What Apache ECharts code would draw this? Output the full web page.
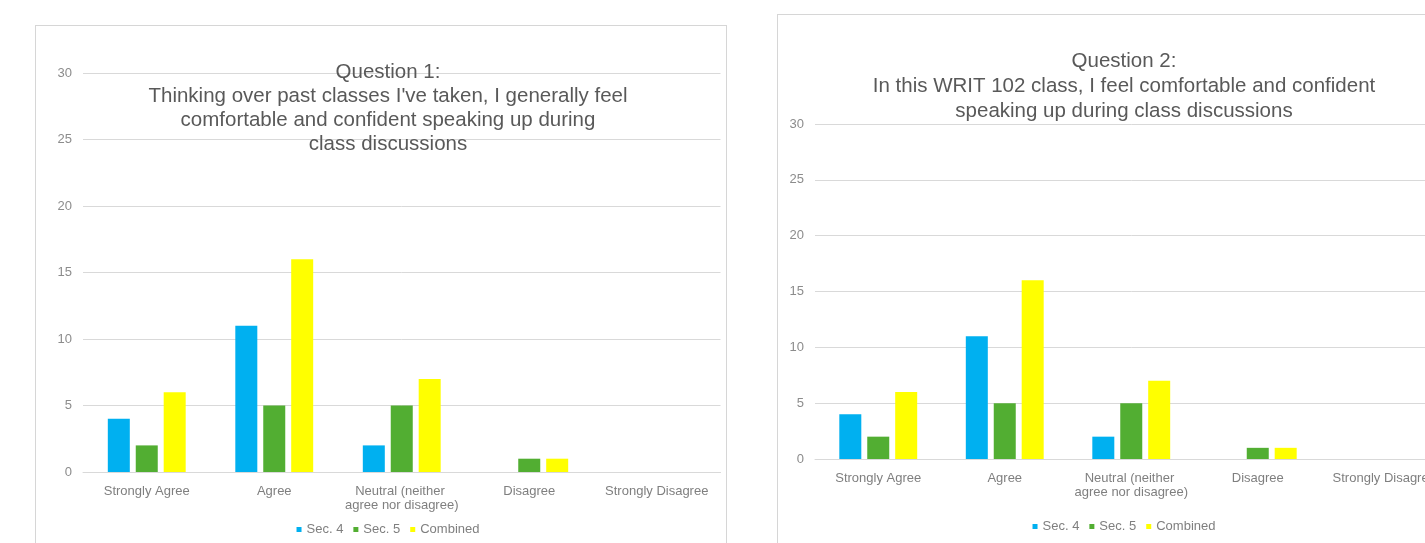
<!DOCTYPE html>
<html>
<head>
<meta charset="utf-8">
<script src="https://cdn.jsdelivr.net/npm/echarts@6/dist/echarts.min.js"></script>
<style>
  html, body { margin: 0; padding: 0; background: #ffffff; width: 1425px; height: 543px; overflow: hidden; position: relative; }
  .frame { position: absolute; box-sizing: border-box; border: 1px solid #d6d6d6; background: #fff; }
  .chart { position: absolute; }
</style>
</head>
<body>
<div class="frame" style="left:35px; top:25px; width:692px; height:540px;"></div>
<div class="frame" style="left:777px; top:14px; width:700px; height:550px;"></div>
<div id="c1" class="chart" style="left:36px; top:26px; width:704px; height:517px;"></div>
<div id="c2" class="chart" style="left:779px; top:15px; width:690px; height:528px;"></div>
<script>
// ---- data ----
const categories = ['Strongly Agree', 'Agree', 'Neutral (neither agree nor disagree)', 'Disagree', 'Strongly Disagree'];
const seriesNames = ['Sec. 4', 'Sec. 5', 'Combined'];
const q1Sec4 = [4, 11, 2, 0, 0];
const q1Sec5 = [2, 5, 5, 1, 0];
const q1Combined = [6, 16, 7, 1, 0];
const q2Sec4 = [4, 11, 2, 0, 0];
const q2Sec5 = [2, 5, 5, 1, 0];
const q2Combined = [6, 16, 7, 1, 0];
const q1Title = 'Question 1:\nThinking over past classes I\'ve taken, I generally feel\ncomfortable and confident speaking up during\nclass discussions';
const q2Title = 'Question 2:\nIn this WRIT 102 class, I feel comfortable and confident\nspeaking up during class discussions';
const yTicks = { min: 0, max: 30, interval: 5 };

const colors = ['#00B0F0', '#52AE32', '#FFFF00'];
const FONT = '"Liberation Sans", Arial, sans-serif';

function buildOption(title, values, layout) {
  return {
    animation: false,
    color: colors,
    textStyle: { fontFamily: FONT },
    title: {
      text: title,
      left: 'center',
      top: layout.titleTop,
      padding: 0,
      textStyle: { fontSize: 20.5, fontWeight: 'normal', color: '#595959', lineHeight: layout.titleLH, fontFamily: FONT }
    },
    legend: {
      data: seriesNames,
      left: 'center',
      top: layout.legendTop,
      icon: 'rect',
      itemWidth: 5,
      itemHeight: 5,
      itemGap: 10,
      padding: 0,
      textStyle: { fontSize: 13, color: '#7f7f7f', fontFamily: FONT }
    },
    grid: { left: layout.gridLeft, top: layout.gridTop, width: layout.gridWidth, height: layout.gridHeight, containLabel: false },
    xAxis: {
      type: 'category',
      data: categories,
      axisLine: { lineStyle: { color: '#d9d9d9', width: 1 } },
      axisTick: { show: false },
      axisLabel: { interval: 0, fontSize: 13, color: '#7f7f7f', margin: 12, width: 120, overflow: 'break', lineHeight: 14, fontFamily: FONT }
    },
    yAxis: {
      type: 'value',
      min: yTicks.min, max: yTicks.max, interval: yTicks.interval,
      axisLine: { show: false },
      axisTick: { show: false },
      axisLabel: { fontSize: 13, color: '#8c8c8c', margin: 11, fontFamily: FONT },
      splitLine: { lineStyle: { color: '#d9d9d9', width: 1 } }
    },
    series: seriesNames.map((n, i) => ({
      name: n,
      type: 'bar',
      data: values[i],
      barWidth: 22,
      barGap: '27%'
    }))
  };
}

const chart1 = echarts.init(document.getElementById('c1'));
chart1.setOption(buildOption(q1Title, [q1Sec4, q1Sec5, q1Combined], {
  titleTop: 34.5, titleLH: 24, legendTop: 497,
  gridLeft: 47, gridTop: 47, gridWidth: 637.5, gridHeight: 399
}));

const chart2 = echarts.init(document.getElementById('c2'));
chart2.setOption(buildOption(q2Title, [q2Sec4, q2Sec5, q2Combined], {
  titleTop: 33.5, titleLH: 25, legendTop: 505,
  gridLeft: 36, gridTop: 109, gridWidth: 632.5, gridHeight: 335
}));
</script>
</body>
</html>
